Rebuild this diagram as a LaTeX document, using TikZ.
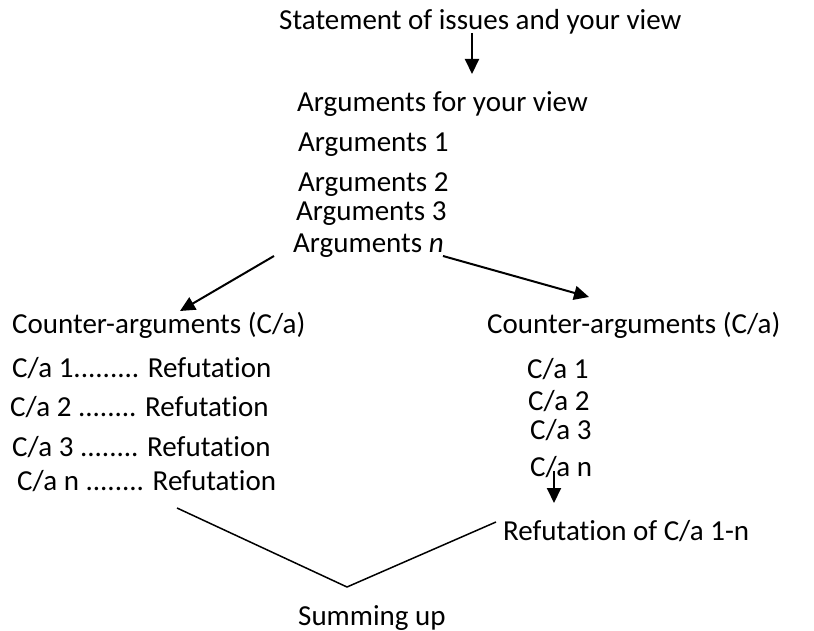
\documentclass[tikz,border=0pt]{standalone}
\usepackage{fontspec}
\setmainfont{Carlito}[Ligatures=NoCommon]
\usetikzlibrary{arrows.meta}
\begin{document}
\begin{tikzpicture}[x=1pt,y=-1pt,
  txt/.style={anchor=base west,inner sep=0pt,font=\fontsize{29}{35}\selectfont},
  arr/.style={line width=2pt,-{Triangle[length=15pt,width=14pt]}},
  link/.style={line width=1.5pt}]
\useasboundingbox (0,0) rectangle (814,631);
% main line of argument
\node[txt] (stmt) at (279,30) {Statement of issues and your view};
\node[txt] (args) at (297,112) {Arguments for your view};
\node[txt] (a1) at (298,152) {Arguments 1};
\node[txt] (a2) at (298,192) {Arguments 2};
\node[txt] (a3) at (296,221) {Arguments 3};
\node[txt] (an) at (293,253) {Arguments \textit{n}};
% left branch: each counter-argument refuted in turn
\node[txt] (lca) at (12,333) {Counter-arguments (C/a)};
\node[txt] (l1) at (12,377) {C/a 1......... Refutation};
\node[txt] (l2) at (10,416) {C/a 2 ........ Refutation};
\node[txt] (l3) at (12,456) {C/a 3 ........ Refutation};
\node[txt] (ln) at (17,490) {C/a n ........ Refutation};
% right branch: all counter-arguments, then one refutation
\node[txt] (rca) at (487,333) {Counter-arguments (C/a)};
\node[txt] (r1) at (527,378) {C/a 1};
\node[txt] (r2) at (528,410) {C/a 2};
\node[txt] (r3) at (530,439) {C/a 3};
\node[txt] (rn) at (530,476) {C/a n};
\node[txt] (ref) at (503,540) {Refutation of C/a 1-n};
\node[txt] (sum) at (298,625) {Summing up};
% connector end points
\coordinate (p0) at (472,33);
\coordinate (p1) at (472,74);
\coordinate (q0) at (274,256);
\coordinate (q1) at (180,311);
\coordinate (r0) at (443,256);
\coordinate (r1e) at (589,297);
\coordinate (s0) at (554,471);
\coordinate (s1) at (554,503);
\coordinate (vl) at (177,508);
\coordinate (vb) at (347,587);
\coordinate (vr) at (496,522);
\draw[arr] (p0) -- (p1);
\draw[arr] (q0) -- (q1);
\draw[arr] (r0) -- (r1e);
\draw[arr] (s0) -- (s1);
\draw[link] (vl) -- (vb) -- (vr);
\end{tikzpicture}
\end{document}
